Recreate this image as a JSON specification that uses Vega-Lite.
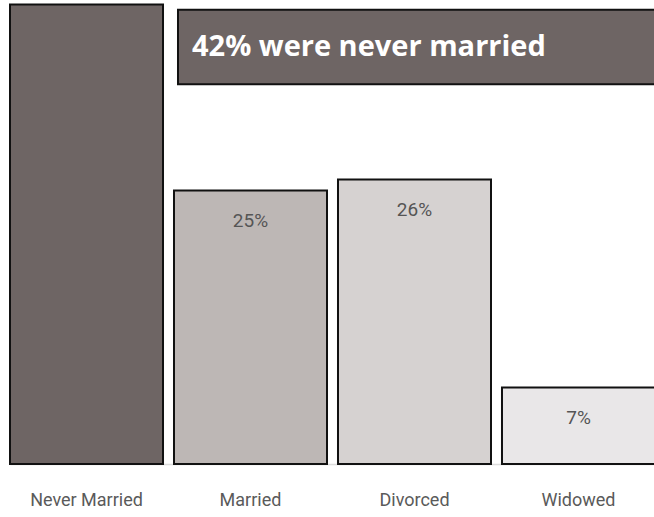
{
  "$schema": "https://vega.github.io/schema/vega-lite/v6.json",
  "width": 654,
  "height": 464,
  "autosize": {"type": "none"},
  "padding": {"left": 0, "top": 0, "right": 0, "bottom": 53},
  "background": "white",
  "config": {"view": {"stroke": null}},
  "datasets": {
    "bars": [
      {"category": "Never Married", "value": 42, "label": "42%"},
      {"category": "Married", "value": 25, "label": "25%"},
      {"category": "Divorced", "value": 26, "label": "26%"},
      {"category": "Widowed", "value": 7, "label": "7%"}
    ],
    "note": [
      {"from": "Married", "to": "Widowed", "low": 34.7, "high": 41.5, "mid": 38.1, "text": "42% were never married"}
    ]
  },
  "layer": [
    {
      "data": {"name": "bars"},
      "mark": {"type": "bar", "stroke": "#111111", "strokeWidth": 2},
      "encoding": {
        "x": {
          "field": "category", "type": "nominal",
          "scale": {"domain": ["Never Married", "Married", "Divorced", "Widowed"], "range": [10, 655], "paddingInner": 0.067, "paddingOuter": 0},
          "axis": {"title": null, "ticks": false, "domainColor": "#dcdcdc", "domainWidth": 1.5, "labelFontSize": 18, "labelColor": "#5a5a5a", "labelFont": "Roboto", "labelPadding": 27, "labelAngle": 0}
        },
        "y": {"field": "value", "type": "quantitative", "scale": {"domain": [0, 42.4], "nice": false, "zero": true}, "axis": null},
        "fill": {
          "field": "category", "type": "nominal",
          "scale": {"domain": ["Never Married", "Married", "Divorced", "Widowed"], "range": ["#6e6564", "#bdb7b5", "#d6d2d1", "#e9e7e8"]},
          "legend": null
        }
      }
    },
    {
      "data": {"name": "bars"},
      "transform": [{"filter": "datum.category !== 'Never Married'"}],
      "mark": {"type": "text", "baseline": "middle", "align": "center", "dy": 31, "fontSize": 19, "font": "Roboto", "color": "#555555"},
      "encoding": {
        "x": {"field": "category", "type": "nominal"},
        "y": {"field": "value", "type": "quantitative"},
        "text": {"field": "label"}
      }
    },
    {
      "data": {"name": "note"},
      "mark": {"type": "rect", "fill": "#6e6564", "stroke": "#111111", "strokeWidth": 2, "xOffset": 4, "x2Offset": 4},
      "encoding": {
        "x": {"field": "from", "type": "nominal", "bandPosition": 0},
        "x2": {"field": "to", "bandPosition": 1},
        "y": {"field": "low", "type": "quantitative"},
        "y2": {"field": "high"}
      }
    },
    {
      "data": {"name": "note"},
      "mark": {"type": "text", "align": "left", "baseline": "middle", "dx": 18, "fontSize": 29, "fontWeight": "bold", "font": "Open Sans", "color": "#ffffff"},
      "encoding": {
        "x": {"field": "from", "type": "nominal", "bandPosition": 0},
        "y": {"field": "mid", "type": "quantitative"},
        "text": {"field": "text"}
      }
    }
  ]
}
